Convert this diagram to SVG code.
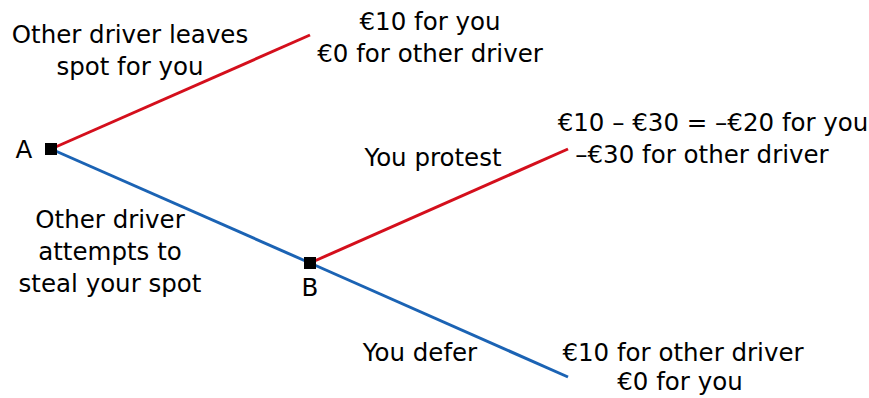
<svg xmlns="http://www.w3.org/2000/svg" width="869" height="398" viewBox="0 0 869 398">
<style>
text{font-family:"DejaVu Sans","Liberation Sans",sans-serif;font-size:24.5px;fill:#000;text-anchor:middle}
.r{stroke:#d40f1c;stroke-width:3;fill:none}
.b{stroke:#1b63b4;stroke-width:3;fill:none}
</style>
<rect width="869" height="398" fill="#fff"/>
<g id="connectors">
<line class="r" x1="51" y1="149" x2="310" y2="35"/>
<line class="b" x1="51" y1="149" x2="310" y2="263"/>
<line class="r" x1="310" y1="263" x2="568" y2="149"/>
<line class="b" x1="310" y1="263" x2="568" y2="377"/>
</g>
<g id="nodeA">
<rect x="45" y="143" width="12" height="12" fill="#000"/>
<text x="24" y="158">A</text>
</g>
<g id="nodeB">
<rect x="304" y="257" width="12" height="12" fill="#000"/>
<text x="310" y="296">B</text>
</g>
<g id="labels">
<text x="130" y="43">Other driver leaves</text>
<text x="130" y="75">spot for you</text>
<text x="110" y="228">Other driver</text>
<text x="110" y="260">attempts to</text>
<text x="110" y="292">steal your spot</text>
<text x="433" y="166">You protest</text>
<text x="420" y="361">You defer</text>
</g>
<g id="payoffTop">
<text x="430" y="30">€10 for you</text>
<text x="430" y="62">€0 for other driver</text>
</g>
<g id="payoffProtest">
<text x="713" y="131">€10 – €30 = –€20 for you</text>
<text x="702" y="163">–€30 for other driver</text>
</g>
<g id="payoffDefer">
<text x="683" y="361">€10 for other driver</text>
<text x="680" y="390">€0 for you</text>
</g>
</svg>
